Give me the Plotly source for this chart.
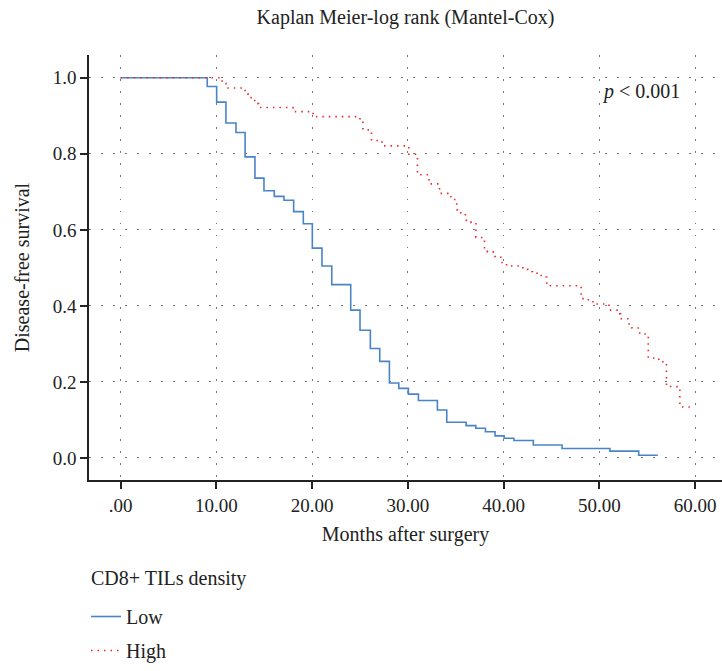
import plotly.graph_objects as go

# Low CD8+ TILs density (Kaplan-Meier step curve)
low_months = [0, 9.05, 10.03, 11.0, 12.05, 13.0, 14.03, 14.97, 16.05, 17.06, 18.07, 19.08,
              20.02, 21.03, 22.05, 24.03, 25.0, 26.08, 27.06, 28.07, 29.05, 30.05, 31.1,
              33.08, 34.06, 36.08, 37.09, 38.1, 39.1, 40.05, 41.07, 43.1, 46.1, 51.1, 54.1, 56.1]
low_surv = [1.0, 0.977, 0.936, 0.881, 0.856, 0.792, 0.736, 0.703, 0.688, 0.678, 0.648, 0.616,
            0.552, 0.505, 0.456, 0.389, 0.336, 0.288, 0.254, 0.197, 0.183, 0.168, 0.151,
            0.126, 0.094, 0.085, 0.078, 0.069, 0.058, 0.052, 0.046, 0.034, 0.025, 0.018, 0.007, 0.007]

# High CD8+ TILs density
high_months = [0, 10.6, 11.0, 13.0, 13.3, 14.0, 14.4, 18.0, 20.1, 25.0, 25.3, 26.2, 27.3,
               30.1, 31.0, 32.2, 33.3, 34.3, 34.8, 35.1, 35.5, 36.0, 36.6, 37.1, 38.0, 38.3,
               39.1, 39.7, 40.3, 42.0, 42.5, 43.0, 43.5, 44.0, 44.5, 48.1, 48.7, 49.1, 49.6,
               51.0, 52.0, 52.2, 53.1, 53.4, 54.2, 55.1, 56.2, 57.0, 58.1, 58.4, 59.8]
high_surv = [1.0, 0.985, 0.973, 0.958, 0.948, 0.932, 0.922, 0.911, 0.898, 0.889, 0.863, 0.835, 0.821,
             0.799, 0.745, 0.721, 0.696, 0.687, 0.68, 0.653, 0.645, 0.625, 0.619, 0.58, 0.553, 0.542,
             0.53, 0.514, 0.505, 0.497, 0.49, 0.486, 0.48, 0.476, 0.453, 0.419, 0.416, 0.411, 0.405,
             0.389, 0.379, 0.366, 0.35, 0.342, 0.326, 0.263, 0.253, 0.188, 0.178, 0.134, 0.134]

x_ticks = [0, 10, 20, 30, 40, 50, 60]
x_tick_labels = [".00", "10.00", "20.00", "30.00", "40.00", "50.00", "60.00"]
y_ticks = [0.0, 0.2, 0.4, 0.6, 0.8, 1.0]
y_tick_labels = ["0.0", "0.2", "0.4", "0.6", "0.8", "1.0"]

FONT = "Liberation Serif"
TXT = "#222"

# plot area in pixels: x 89..722, y 55..480
PL, PR, PT, PB = 89, 722, 55, 480
def px_x(px):
    return (px - PL) / (PR - PL)
def px_y(py):
    return (PB - py) / (PB - PT)

fig = go.Figure()
fig.add_trace(go.Scatter(
    x=low_months, y=low_surv, mode="lines", line_shape="hv", name="Low", legendgroup="low",
    line=dict(color="#4a84c8", width=1.6),
))
fig.add_trace(go.Scatter(
    x=high_months, y=high_surv, mode="lines", line_shape="hv", name="High", legendgroup="high",
    line=dict(color="#e8282e", width=1.6, dash="1.5px,5px"),
))

fig.add_annotation(
    x=58.6, y=0.963, xref="x", yref="y", xanchor="right", yanchor="middle",
    text="<i>p</i> &lt; 0.001", showarrow=False,
    font=dict(family=FONT, size=20, color=TXT),
)
fig.add_annotation(
    x=px_x(89), y=px_y(578), xref="paper", yref="paper", xanchor="left", yanchor="middle",
    text="CD8+ TILs density", showarrow=False,
    font=dict(family=FONT, size=20, color=TXT),
)

axis_common = dict(
    showline=True, linecolor=TXT, linewidth=1.5, automargin=False,
    ticks="outside", ticklen=7, tickwidth=1.5, tickcolor=TXT,
    showgrid=True, gridcolor="#777", gridwidth=1, griddash="1.5px,10.5px",
    zeroline=False, tickfont=dict(family=FONT, size=19, color=TXT),
)

fig.update_layout(
    width=722, height=671,
    margin=dict(l=PL, r=722 - PR, t=PT, b=671 - PB),
    paper_bgcolor="white", plot_bgcolor="white",
    title=dict(text="Kaplan Meier-log rank (Mantel-Cox)", x=0.5, xref="paper", xanchor="center",
               y=1 - 17 / 671, yref="container", yanchor="middle",
               font=dict(family=FONT, size=20, color=TXT)),
    xaxis=dict(range=[-3.3, 62.8], tickvals=x_ticks, ticktext=x_tick_labels,
               title=dict(text="Months after surgery", standoff=12,
                          font=dict(family=FONT, size=20, color=TXT)),
               **axis_common),
    yaxis=dict(range=[-0.058, 1.06], tickvals=y_ticks, ticktext=y_tick_labels,
               title=dict(text="Disease-free survival", standoff=18,
                          font=dict(family=FONT, size=20, color=TXT)),
               **axis_common),
    legend=dict(
        x=px_x(86), xanchor="left", y=px_y(670), yanchor="bottom", orientation="v",
        font=dict(family=FONT, size=20, color=TXT),
        bgcolor="rgba(0,0,0,0)", tracegroupgap=5,
    ),
    showlegend=True,
)

fig.write_html(
    "out.html",
    config={"displayModeBar": False},
    post_script="document.body.style.margin='0';document.body.style.overflow='hidden';",
)
